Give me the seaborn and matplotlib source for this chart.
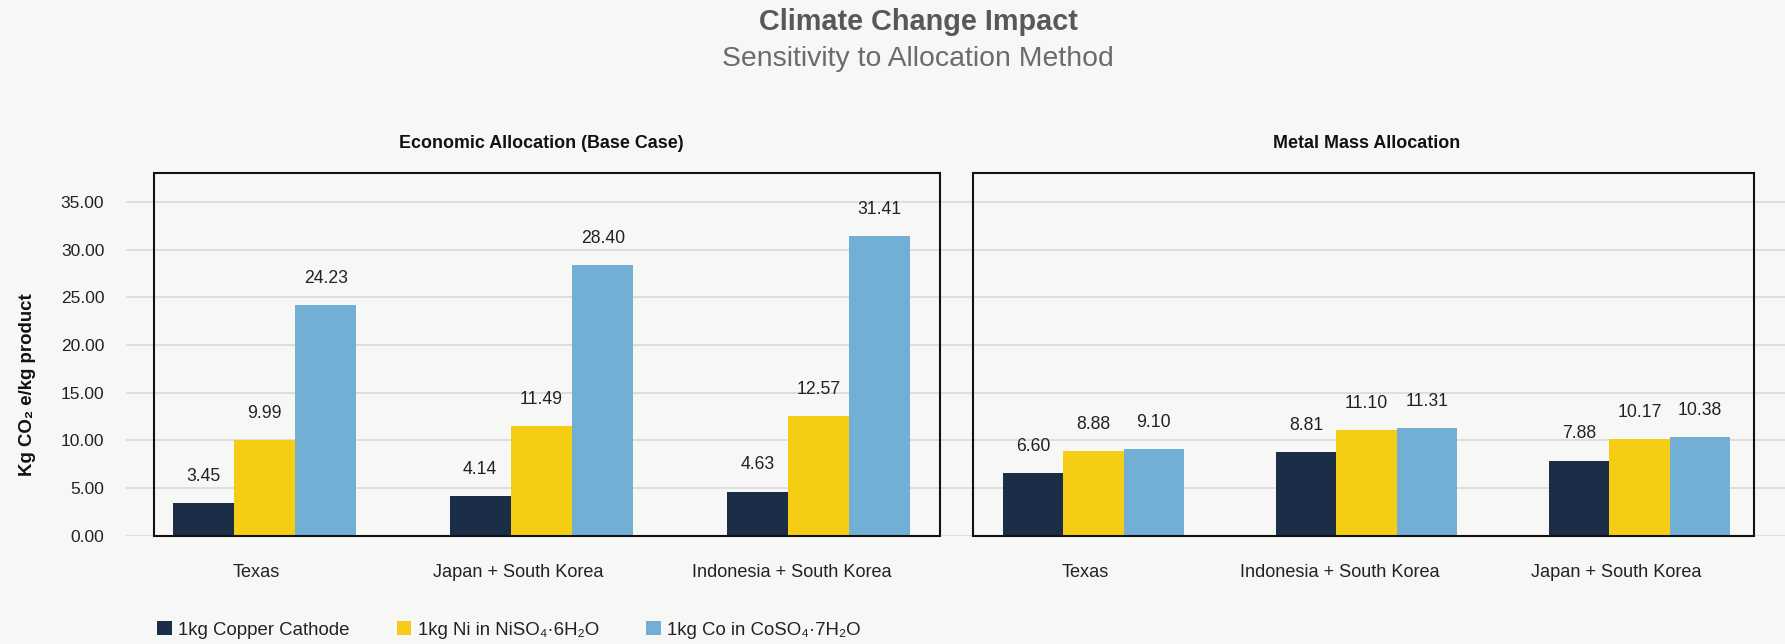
import matplotlib
matplotlib.use("Agg")
import matplotlib.pyplot as plt
import matplotlib.patches as mpatches
from matplotlib.transforms import ScaledTranslation
import pandas as pd
import seaborn as sns

# ---- data -------------------------------------------------------------
products = ["1kg Copper Cathode", "1kg Ni in NiSO₄·6H₂O", "1kg Co in CoSO₄·7H₂O"]
colors = ["#1b2d47", "#f5cd15", "#73afd4"]

econ_regions = ["Texas", "Japan + South Korea", "Indonesia + South Korea"]
econ_copper = [3.45, 4.14, 4.63]
econ_nickel = [9.99, 11.49, 12.57]
econ_cobalt = [24.23, 28.40, 31.41]

mass_regions = ["Texas", "Indonesia + South Korea", "Japan + South Korea"]
mass_copper = [6.60, 8.81, 7.88]
mass_nickel = [8.88, 11.10, 10.17]
mass_cobalt = [9.10, 11.31, 10.38]

y_ticks = [0, 5, 10, 15, 20, 25, 30, 35]

title = "Climate Change Impact"
subtitle = "Sensitivity to Allocation Method"
panel_titles = ["Economic Allocation (Base Case)", "Metal Mass Allocation"]
y_label = "Kg CO₂ e/kg product"


def long_form(regions, *series):
    rows = []
    for product, values in zip(products, series):
        for region, v in zip(regions, values):
            rows.append({"region": region, "product": product, "value": v})
    return pd.DataFrame(rows)


econ_df = long_form(econ_regions, econ_copper, econ_nickel, econ_cobalt)
mass_df = long_form(mass_regions, mass_copper, mass_nickel, mass_cobalt)

# ---- style ------------------------------------------------------------
BG = "#f7f7f5"
TXT = "#222222"
sns.set_theme(style="white")
plt.rcParams["font.family"] = ["Liberation Sans", "DejaVu Sans"]

W, H = 1785, 644
fig = plt.figure(figsize=(W / 100, H / 100), dpi=100, facecolor=BG)


def fx(px):
    return px / W


def fy(py):
    return 1 - py / H


top_px, base_px = 173.3, 535.7
bottom = fy(base_px)
height = (base_px - top_px) / H
YMAX = 38

# background axes carrying the shared value grid and y tick labels
bg = fig.add_axes([fx(126), bottom, 1 - fx(126), height], zorder=0)
bg.set_facecolor("none")
bg.set_ylim(0, YMAX)
bg.set_yticks(y_ticks)
bg.set_yticklabels([f"{v:.2f}" for v in y_ticks])
bg.set_xticks([])
bg.grid(axis="y", color="#d9d9d9", linewidth=1.2)
bg.tick_params(axis="y", length=0, pad=15.6, labelsize=12.5, labelcolor=TXT)
for s in bg.spines.values():
    s.set_visible(False)

panels = [
    (econ_df, econ_regions, 126, 957, 154, 940, panel_titles[0]),
    (mass_df, mass_regions, 957, 1776, 972.7, 1754, panel_titles[1]),
]

region_texts = []
for df, regions, x0, x1, bx0, bx1, ptitle in panels:
    ax = fig.add_axes([fx(x0), bottom, fx(x1) - fx(x0), height], zorder=1)
    sns.barplot(data=df, x="region", y="value", hue="product",
                order=regions, hue_order=products, palette=colors,
                saturation=1, width=0.664, errorbar=None, legend=False,
                linewidth=0, ax=ax)
    ax.set_xlim(-0.5, len(regions) - 0.5)
    ax.set_ylim(0, YMAX)
    ax.set_axis_off()
    for cont in ax.containers:
        ax.bar_label(cont, fmt="%.2f", padding=13, fontsize=12.7, color=TXT)
    for i, r in enumerate(regions):
        t = ax.text(i, -41 / (base_px - top_px), r,
                    transform=ax.get_xaxis_transform(), ha="center",
                    va="baseline", fontsize=13.1, color=TXT)
        region_texts.append(t)
    # panel frame
    fig.add_artist(mpatches.Rectangle((fx(bx0), bottom), fx(bx1) - fx(bx0), height,
                                      transform=fig.transFigure, fill=False,
                                      linewidth=1.5, edgecolor="#111111", zorder=3))
    fig.text((fx(x0) + fx(x1)) / 2, fy(148), ptitle, ha="center", va="baseline",
             fontsize=12.9, fontweight="bold", color="#111111")

fig.text(fx(918), fy(30), title, ha="center", va="baseline",
         fontsize=20.8, fontweight="bold", color="#585858")
fig.text(fx(918), fy(65.7), subtitle, ha="center", va="baseline",
         fontsize=20.4, color="#6b6b6b")
fig.text(fx(27), fy(385), y_label, rotation=90, ha="center", va="center",
         fontsize=13.4, fontweight="bold", color="#111111")

handles = [mpatches.Patch(facecolor=c, edgecolor="none") for c in colors]
fig.legend(handles, products, loc="center left", bbox_to_anchor=(fx(157), fy(630)),
           ncol=3, frameon=False, fontsize=13.4, labelcolor=TXT,
           handlelength=0.78, handleheight=0.78, handletextpad=0.34,
           columnspacing=2.55, borderpad=0, borderaxespad=0)

# category labels sit slightly left of their group centre
fig.canvas.draw()
renderer = fig.canvas.get_renderer()
for t in region_texts:
    w = t.get_window_extent(renderer).width
    shift = -(0.12 * w + 3) / fig.dpi
    t.set_transform(t.get_transform() + ScaledTranslation(shift, 0, fig.dpi_scale_trans))

fig.savefig("out.png", dpi=100, facecolor=BG)
